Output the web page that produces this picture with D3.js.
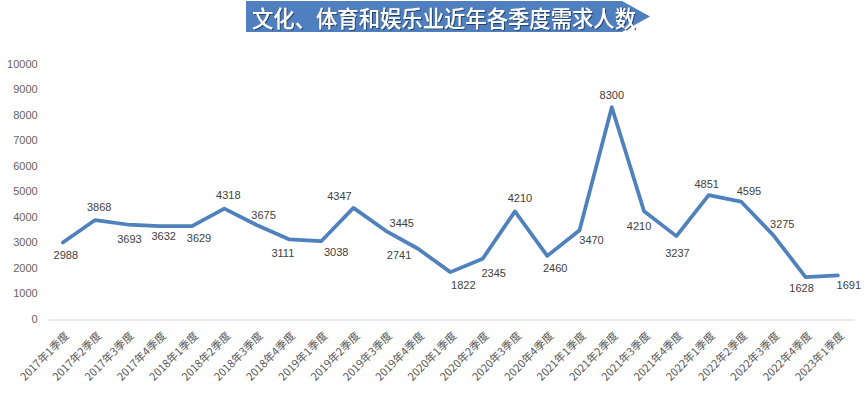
<!DOCTYPE html>
<html><head><meta charset="utf-8">
<script src="https://cdn.jsdelivr.net/npm/d3@7/dist/d3.min.js"></script>
<style>body{margin:0;background:#fff}svg{display:block}</style>
</head><body><svg id="c" width="868" height="393"></svg>
<script>
const title = "文化、体育和娱乐业近年各季度需求人数";
const categories = ["2017年1季度","2017年2季度","2017年3季度","2017年4季度",
  "2018年1季度","2018年2季度","2018年3季度","2018年4季度",
  "2019年1季度","2019年2季度","2019年3季度","2019年4季度",
  "2020年1季度","2020年2季度","2020年3季度","2020年4季度",
  "2021年1季度","2021年2季度","2021年3季度","2021年4季度",
  "2022年1季度","2022年2季度","2022年3季度","2022年4季度",
  "2023年1季度"];
const values = [2988,3868,3693,3632,3629,4318,3675,3111,3038,4347,3445,2741,
  1822,2345,4210,2460,3470,8300,4210,3237,4851,4595,3275,1628,1691];
const yTicks = [0,1000,2000,3000,4000,5000,6000,7000,8000,9000,10000];
// label placement (layout only): offset of each value label from its point
const labelOffsets = [[3,12.5],[4,-13],[2,14],[4,10],[7,12],[4,-13.5],[7,-10],[-6,14],
  [15,11],[-14,-12],[16,-8],[-19,6],[13,13],[11,14],[5,-13],[8,12],
  [12,10],[0,-12],[-5,15],[1,16.5],[-2,-11],[8,-11],[9,-11],[-4,11],[11,10]];

const svg = d3.select("#c");
const x = d3.scaleBand().domain(categories).range([46.7, 854]);
const y = d3.scaleLinear().domain([0, 10000]).range([318.5, 64]);
const cx = d => x(d) + x.bandwidth() / 2;

// title banner
const tb = {x0: 246, x1: 622, xp: 650, y0: 1, y1: 32};
const defs = svg.append("defs");
const f = defs.append("filter").attr("id","ts").attr("x","-5%").attr("y","-20%").attr("width","110%").attr("height","140%");
f.append("feDropShadow").attr("dx",1).attr("dy",1).attr("stdDeviation",0.6).attr("flood-color","#1f3a60").attr("flood-opacity",0.9);
svg.append("path")
  .attr("d", `M${tb.x0},${tb.y0}L${tb.x1},${tb.y0}L${tb.xp},${(tb.y0+tb.y1)/2}L${tb.x1},${tb.y1}L${tb.x0},${tb.y1}Z`)
  .attr("fill", "#4f7fbe");
svg.append("text")
  .attr("x", 252).attr("y", 17)
  .attr("dominant-baseline", "central")
  .attr("font-family", "'Noto Sans CJK SC', sans-serif")
  .attr("font-size", 22.5).attr("font-weight", 500)
  .attr("fill", "#fff")
  .attr("textLength", 384).attr("lengthAdjust", "spacingAndGlyphs")
  .attr("filter", "url(#ts)")
  .text(title);

// y axis
const ya = svg.append("g").attr("transform", "translate(46.7,0)")
  .call(d3.axisLeft(y).tickValues(yTicks).tickSize(0).tickPadding(9).tickFormat(d3.format("d")));
ya.select(".domain").remove();
ya.selectAll("text").attr("font-family", "'Liberation Sans', Arial, sans-serif")
  .attr("font-size", 11).attr("fill", "#6b6257");

// x axis
const xa = svg.append("g").attr("transform", `translate(0,${y(0)+1})`)
  .call(d3.axisBottom(x).tickSize(0).tickPadding(0));
xa.select(".domain").attr("stroke", "#d9d9d9").attr("stroke-width", 1);
xa.selectAll(".tick text")
  .attr("font-family", "'Noto Sans CJK SC', sans-serif")
  .attr("font-size", 11).attr("fill", "#595959")
  .attr("text-anchor", "end")
  .attr("dy", 0).attr("y", 0)
  .attr("transform", "translate(7,17) rotate(-45)");

// line
const line = d3.line().x((d, i) => cx(categories[i])).y(d => y(d));
svg.append("path").datum(values)
  .attr("d", line)
  .attr("fill", "none")
  .attr("stroke", "#4f81bd")
  .attr("stroke-width", 3.75)
  .attr("stroke-linejoin", "round")
  .attr("stroke-linecap", "round");

// value labels
svg.append("g").selectAll("text").data(values).join("text")
  .attr("x", (d, i) => cx(categories[i]) + labelOffsets[i][0])
  .attr("y", (d, i) => y(d) + labelOffsets[i][1])
  .attr("text-anchor", "middle")
  .attr("dominant-baseline", "central")
  .attr("font-family", "'Liberation Sans', Arial, sans-serif")
  .attr("font-size", 11).attr("fill", "#404040")
  .text(d => d);
</script></body></html>
